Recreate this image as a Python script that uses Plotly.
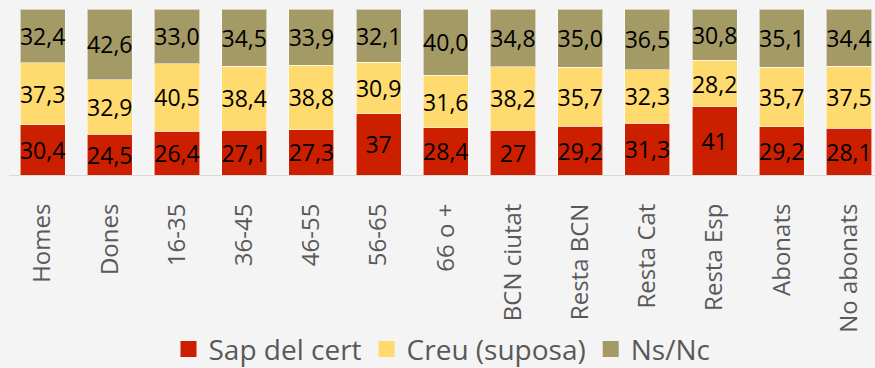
import plotly.graph_objects as go

categories = ["Homes", "Dones", "16-35", "36-45", "46-55", "56-65", "66 o +",
              "BCN ciutat", "Resta BCN", "Resta Cat", "Resta Esp", "Abonats", "No abonats"]

sap_del_cert = [30.4, 24.5, 26.4, 27.1, 27.3, 37, 28.4, 27, 29.2, 31.3, 41, 29.2, 28.1]
creu_suposa = [37.3, 32.9, 40.5, 38.4, 38.8, 30.9, 31.6, 38.2, 35.7, 32.3, 28.2, 35.7, 37.5]
ns_nc = [32.4, 42.6, 33.0, 34.5, 33.9, 32.1, 40.0, 34.8, 35.0, 36.5, 30.8, 35.1, 34.4]

series = [
    ("Sap del cert", sap_del_cert, "#CC1F00", "g"),
    ("Creu (suposa)", creu_suposa, "#FFDA6E", ".1f"),
    ("Ns/Nc", ns_nc, "#A39A66", ".1f"),
]

FONT = "Open Sans"
GREY = "#595959"

fig = go.Figure()
for name, vals, color, fmt in series:
    labels = [format(v, fmt).replace(".", ",") for v in vals]
    fig.add_trace(go.Bar(
        x=categories, y=vals, name=name, text=labels,
        textposition="inside", insidetextanchor="middle", textangle=0,
        constraintext="none",
        textfont=dict(family=FONT, size=23, color="black"),
        marker=dict(color=color, line=dict(color="rgba(255,255,255,0.55)", width=1)),
        showlegend=False, hoverinfo="skip",
    ))
    # legend swatch
    fig.add_trace(go.Scatter(
        x=[None], y=[None], mode="markers", name=name,
        marker=dict(symbol="square", size=18, color=color),
        showlegend=True,
    ))

fig.update_layout(
    width=875, height=368,
    barmode="stack", barnorm="percent", bargap=0.33,
    paper_bgcolor="#F4F4F4", plot_bgcolor="#F4F4F4",
    margin=dict(l=9, r=0, t=9, b=193, autoexpand=False),
    font=dict(family=FONT, color=GREY),
    legend=dict(orientation="h", xanchor="center", x=0.5, yanchor="middle", y=-1.05,
                traceorder="normal",
                font=dict(family=FONT, size=28, color=GREY),
                itemsizing="trace", bgcolor="rgba(0,0,0,0)"),
    xaxis=dict(range=[-0.5, 12.387], showgrid=False, ticks="", automargin=False,
               tickangle=-90, tickfont=dict(family=FONT, size=24, color=GREY),
               showline=True, linecolor="#D9D9D9", linewidth=1,
               ticklabelstandoff=18),
    yaxis=dict(range=[0, 100], visible=False, showgrid=False, zeroline=False,
               automargin=False),
)

fig.write_html("out.html")
